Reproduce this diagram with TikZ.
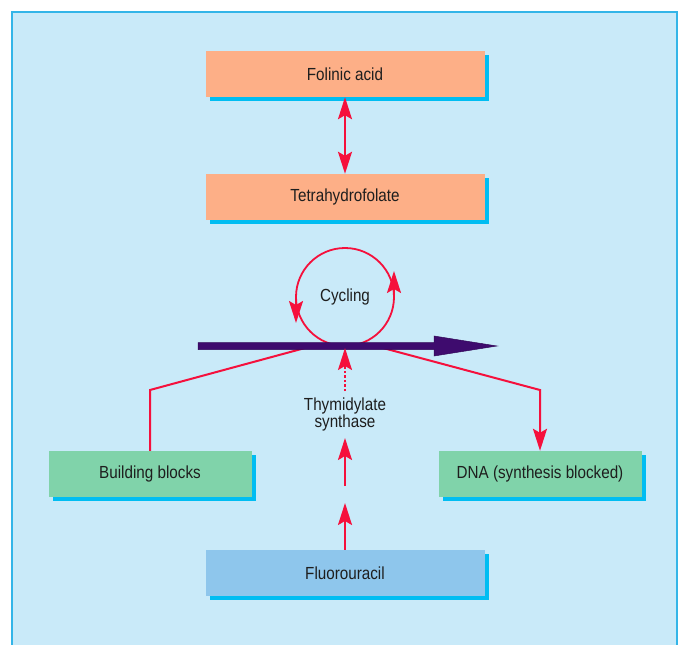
\documentclass[tikz,border=0pt]{standalone}
\usepackage{fontspec}
\setmainfont[FakeStretch=0.87]{Liberation Sans}
\usetikzlibrary{arrows.meta,shadows}
\definecolor{bgc}{HTML}{C9EAF9}
\definecolor{framec}{HTML}{33B5E8}
\definecolor{orangec}{HTML}{FDAF87}
\definecolor{greenc}{HTML}{80D3AA}
\definecolor{bluec}{HTML}{8EC6EC}
\definecolor{shadowc}{HTML}{00BDF2}
\definecolor{redc}{HTML}{F5103C}
\definecolor{purpc}{HTML}{3E0B6E}
\definecolor{textc}{HTML}{1E1E1E}
\begin{document}
\begin{tikzpicture}[x=1pt,y=-1pt,
  lab/.style={font=\fontsize{17.5pt}{17pt}\selectfont, text=textc, inner sep=1pt},
  boxn/.style={lab, minimum height=46pt, inner sep=0pt,
    drop shadow={shadow xshift=4pt, shadow yshift=-4pt, fill=shadowc, opacity=1}},
  widebox/.style={boxn, minimum width=279pt},
  sidebox/.style={boxn, minimum width=203pt},
  redline/.style={draw=redc, line width=2pt},
  redtip/.style={-{Stealth[length=22pt,width=14pt,inset=4pt]}},
  cyctip/.style={-{Stealth[length=22pt,width=14pt,inset=4pt]}}]
\useasboundingbox (0,0) rectangle (683,645);
\clip (0,0) rectangle (683,645);
% frame
\fill[bgc] (12,12) rectangle (677,660);
\draw[framec, line width=2pt] (12,660) -- (12,12) -- (677,12) -- (677,660);
% boxes
\node[widebox, fill=orangec] (fol) at (345,74) {Folinic acid};
\node[widebox, fill=orangec] (thf) at (345,197) {Tetrahydrofolate};
\node[sidebox, fill=greenc] (bb) at (150,474) {Building blocks};
\node[sidebox, fill=greenc] (dna) at (540,474) {DNA (synthesis blocked)};
\node[widebox, fill=bluec] (flu) at (345,573) {Fluorouracil};
% double arrow
\draw[redline, {Stealth[length=22pt,width=14pt,inset=4pt]}-{Stealth[length=22pt,width=14pt,inset=4pt]}] (fol.south) -- (thf.north);
% side red lines
\coordinate (lstart) at (305,348);
\coordinate (lcorn) at (150,390);
\coordinate (rstart) at (383,348);
\coordinate (rcorn) at (540,390);
\draw[redline] (lstart) -- (lcorn) -- (bb.north);
\draw[redline, redtip] (rstart) -- (rcorn) -- (dna.north);
% cycling loop
\coordinate (cyc) at (345,297);
\draw[redc, line width=1.8pt] (cyc) circle[radius=49];
\coordinate (cl1) at (296,300);
\coordinate (cl2) at (296,323);
\coordinate (cr1) at (394,294);
\coordinate (cr2) at (394,271);
\draw[redc, line width=1.8pt, cyctip] (cl1) -- (cl2);
\draw[redc, line width=1.8pt, cyctip] (cr1) -- (cr2);
\node[lab] (cyclab) at (cyc) {Cycling};
% purple arrow
\fill[purpc, draw=purpc!80!black, line width=0.5pt] (198,342.5) -- (434,342.5) -- (434,336) -- (497,346) -- (434,356) -- (434,349.5) -- (198,349.5) -- cycle;
% thymidylate synthase
\node[lab, align=center] (ts) at (345,414) {Thymidylate\\synthase};
\coordinate (dotS) at (345,391);
\coordinate (dotE) at (345,348);
\draw[redline, line width=1.8pt, dash pattern=on 2.5pt off 2pt, redtip] (dotS) -- (dotE);
\coordinate (ua1) at (345,486);
\coordinate (ua2) at (345,438);
\draw[redline, redtip] (ua1) -- (ua2);
\coordinate (la2) at (345,503);
\draw[redline, redtip] (flu.north) -- (la2);
\end{tikzpicture}
\end{document}
